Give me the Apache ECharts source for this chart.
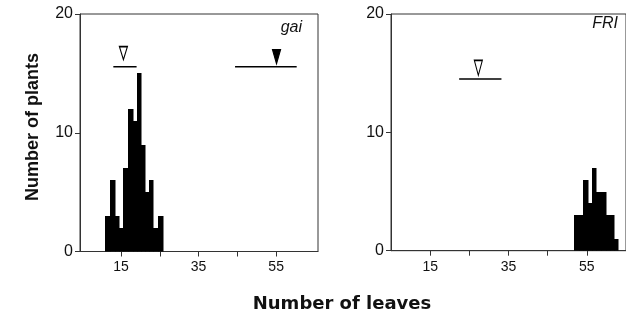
<!DOCTYPE html>
<html><head><meta charset="utf-8">
<script src="https://cdn.jsdelivr.net/npm/echarts@6/dist/echarts.min.js"></script>
<style>html,body{margin:0;padding:0;background:#fff}#c{width:626px;height:318px}</style>
</head><body><div id="c"></div>
<script>
// gai panel histogram: bin edges (number of leaves) and counts
const gaiEdges = [10.9, 12.15, 13.4, 14.55, 15.5, 16.8, 18.0, 19.05, 20.25, 21.25, 22.3, 23.3, 24.55, 25.75];
const gaiCounts = [3, 6, 3, 2, 7, 12, 11, 15, 9, 5, 6, 2, 3];
// FRI panel histogram
const friEdges = [51.8, 52.9, 54.0, 55.2, 56.2, 57.4, 58.6, 59.8, 60.8, 61.85, 62.9];
const friCounts = [3, 3, 6, 4, 7, 5, 5, 3, 3, 1];
// mean markers: [lineStart, lineEnd, markerX]
const gaiOpenMean = [13.0, 19.0, 15.6];
const gaiFilledMean = [44.4, 60.3, 55.1];
const friOpenMean = [22.4, 33.2, 27.3];
const gaiMeanY = 15.55, gaiTriY = 16.7, gaiFilledTriY = 16.4;
const friMeanY = 14.5, friTriY = 15.45;
const xTicks = [15, 25, 35, 45, 55];
const xLabels = [15, 35, 55];
const yTicks = [0, 10, 20];

function bins(edges, counts) {
  return counts.map((c, i) => [edges[i], edges[i + 1], c]);
}
function renderBar(params, api) {
  const p0 = api.coord([api.value(0), api.value(2)]);
  const p1 = api.coord([api.value(1), 0]);
  const x0 = Math.round(p0[0]), x1 = Math.round(p1[0]);
  const y0 = Math.round(p0[1]);
  return { type: 'rect', shape: { x: x0, y: y0, width: x1 - x0 + 0.5, height: p1[1] - y0 },
    style: { fill: '#000' } };
}
const axisCol = '#333';
const font = 'Liberation Sans';
function xAxis(idx, min, max) {
  return {
    type: 'value', gridIndex: idx, min: min, max: max,
    axisLine: { show: true, lineStyle: { color: axisCol, width: 1 } },
    axisTick: { show: true, length: 5, customValues: xTicks, lineStyle: { color: axisCol } },
    axisLabel: { customValues: xLabels, fontFamily: font, fontSize: 14, color: '#111', margin: 9 },
    splitLine: { show: false }
  };
}
function yAxis(idx) {
  return {
    type: 'value', gridIndex: idx, min: 0, max: 20, interval: 10,
    axisLine: { show: true, lineStyle: { color: axisCol, width: 1 } },
    axisTick: { show: true, length: 5, lineStyle: { color: axisCol } },
    axisLabel: { fontFamily: font, fontSize: 16, color: '#111', margin: 7 },
    splitLine: { show: false }
  };
}
function meanLine(idx, m, y) {
  return { type: 'line', xAxisIndex: idx, yAxisIndex: idx, data: [[m[0], y], [m[1], y]], symbol: 'none',
    lineStyle: { color: '#000', width: 1.5 }, silent: true, animation: false };
}
function tri(idx, x, y, filled, size) {
  return { type: 'scatter', xAxisIndex: idx, yAxisIndex: idx, data: [[x, y]], symbol: 'triangle', symbolRotate: 180,
    symbolSize: size, itemStyle: { color: filled ? '#000' : '#fff', borderColor: '#000', borderWidth: 1.3, opacity: 1 },
    silent: true, animation: false };
}
const chart = echarts.init(document.getElementById('c'), null, { renderer: 'canvas' });
chart.setOption({
  animation: false,
  backgroundColor: '#fff',
  grid: [
    { left: 80, top: 14, width: 238, height: 237.5, show: true, borderColor: axisCol, borderWidth: 1, backgroundColor: 'transparent' },
    { left: 391, top: 14, width: 235, height: 236.7, show: true, borderColor: axisCol, borderWidth: 1, backgroundColor: 'transparent' }
  ],
  xAxis: [xAxis(0, 4.4, 65.8), xAxis(1, 5, 65)],
  yAxis: [yAxis(0), yAxis(1)],
  series: [
    { type: 'custom', xAxisIndex: 0, yAxisIndex: 0, data: bins(gaiEdges, gaiCounts), encode: { x: [0, 1], y: 2 }, renderItem: renderBar },
    { type: 'custom', xAxisIndex: 1, yAxisIndex: 1, data: bins(friEdges, friCounts), encode: { x: [0, 1], y: 2 }, renderItem: renderBar },
    meanLine(0, gaiOpenMean, gaiMeanY),
    meanLine(0, gaiFilledMean, gaiMeanY),
    meanLine(1, friOpenMean, friMeanY),
    tri(0, gaiOpenMean[2], gaiTriY, false, [8, 13]),
    tri(0, gaiFilledMean[2], gaiFilledTriY, true, [8, 14]),
    tri(1, friOpenMean[2], friTriY, false, [8, 15])
  ],
  graphic: [
    { type: 'text', x: 302, y: 36, style: { text: 'gai', font: 'italic 16px "Liberation Sans"', fill: '#111', textAlign: 'right', textVerticalAlign: 'bottom' } },
    { type: 'text', x: 618, y: 32, style: { text: 'FRI', font: 'italic 16px "Liberation Sans"', fill: '#111', textAlign: 'right', textVerticalAlign: 'bottom' } },
    { type: 'text', x: 33, y: 127, rotation: Math.PI / 2, style: { text: 'Number of plants', font: 'bold 18px "Liberation Sans"', fill: '#111', textAlign: 'center', textVerticalAlign: 'middle' } },
    { type: 'text', x: 342, y: 304, style: { text: 'Number of leaves', font: 'bold 18px "DejaVu Sans"', fill: '#111', textAlign: 'center', textVerticalAlign: 'middle' } }
  ]
});
</script></body></html>
